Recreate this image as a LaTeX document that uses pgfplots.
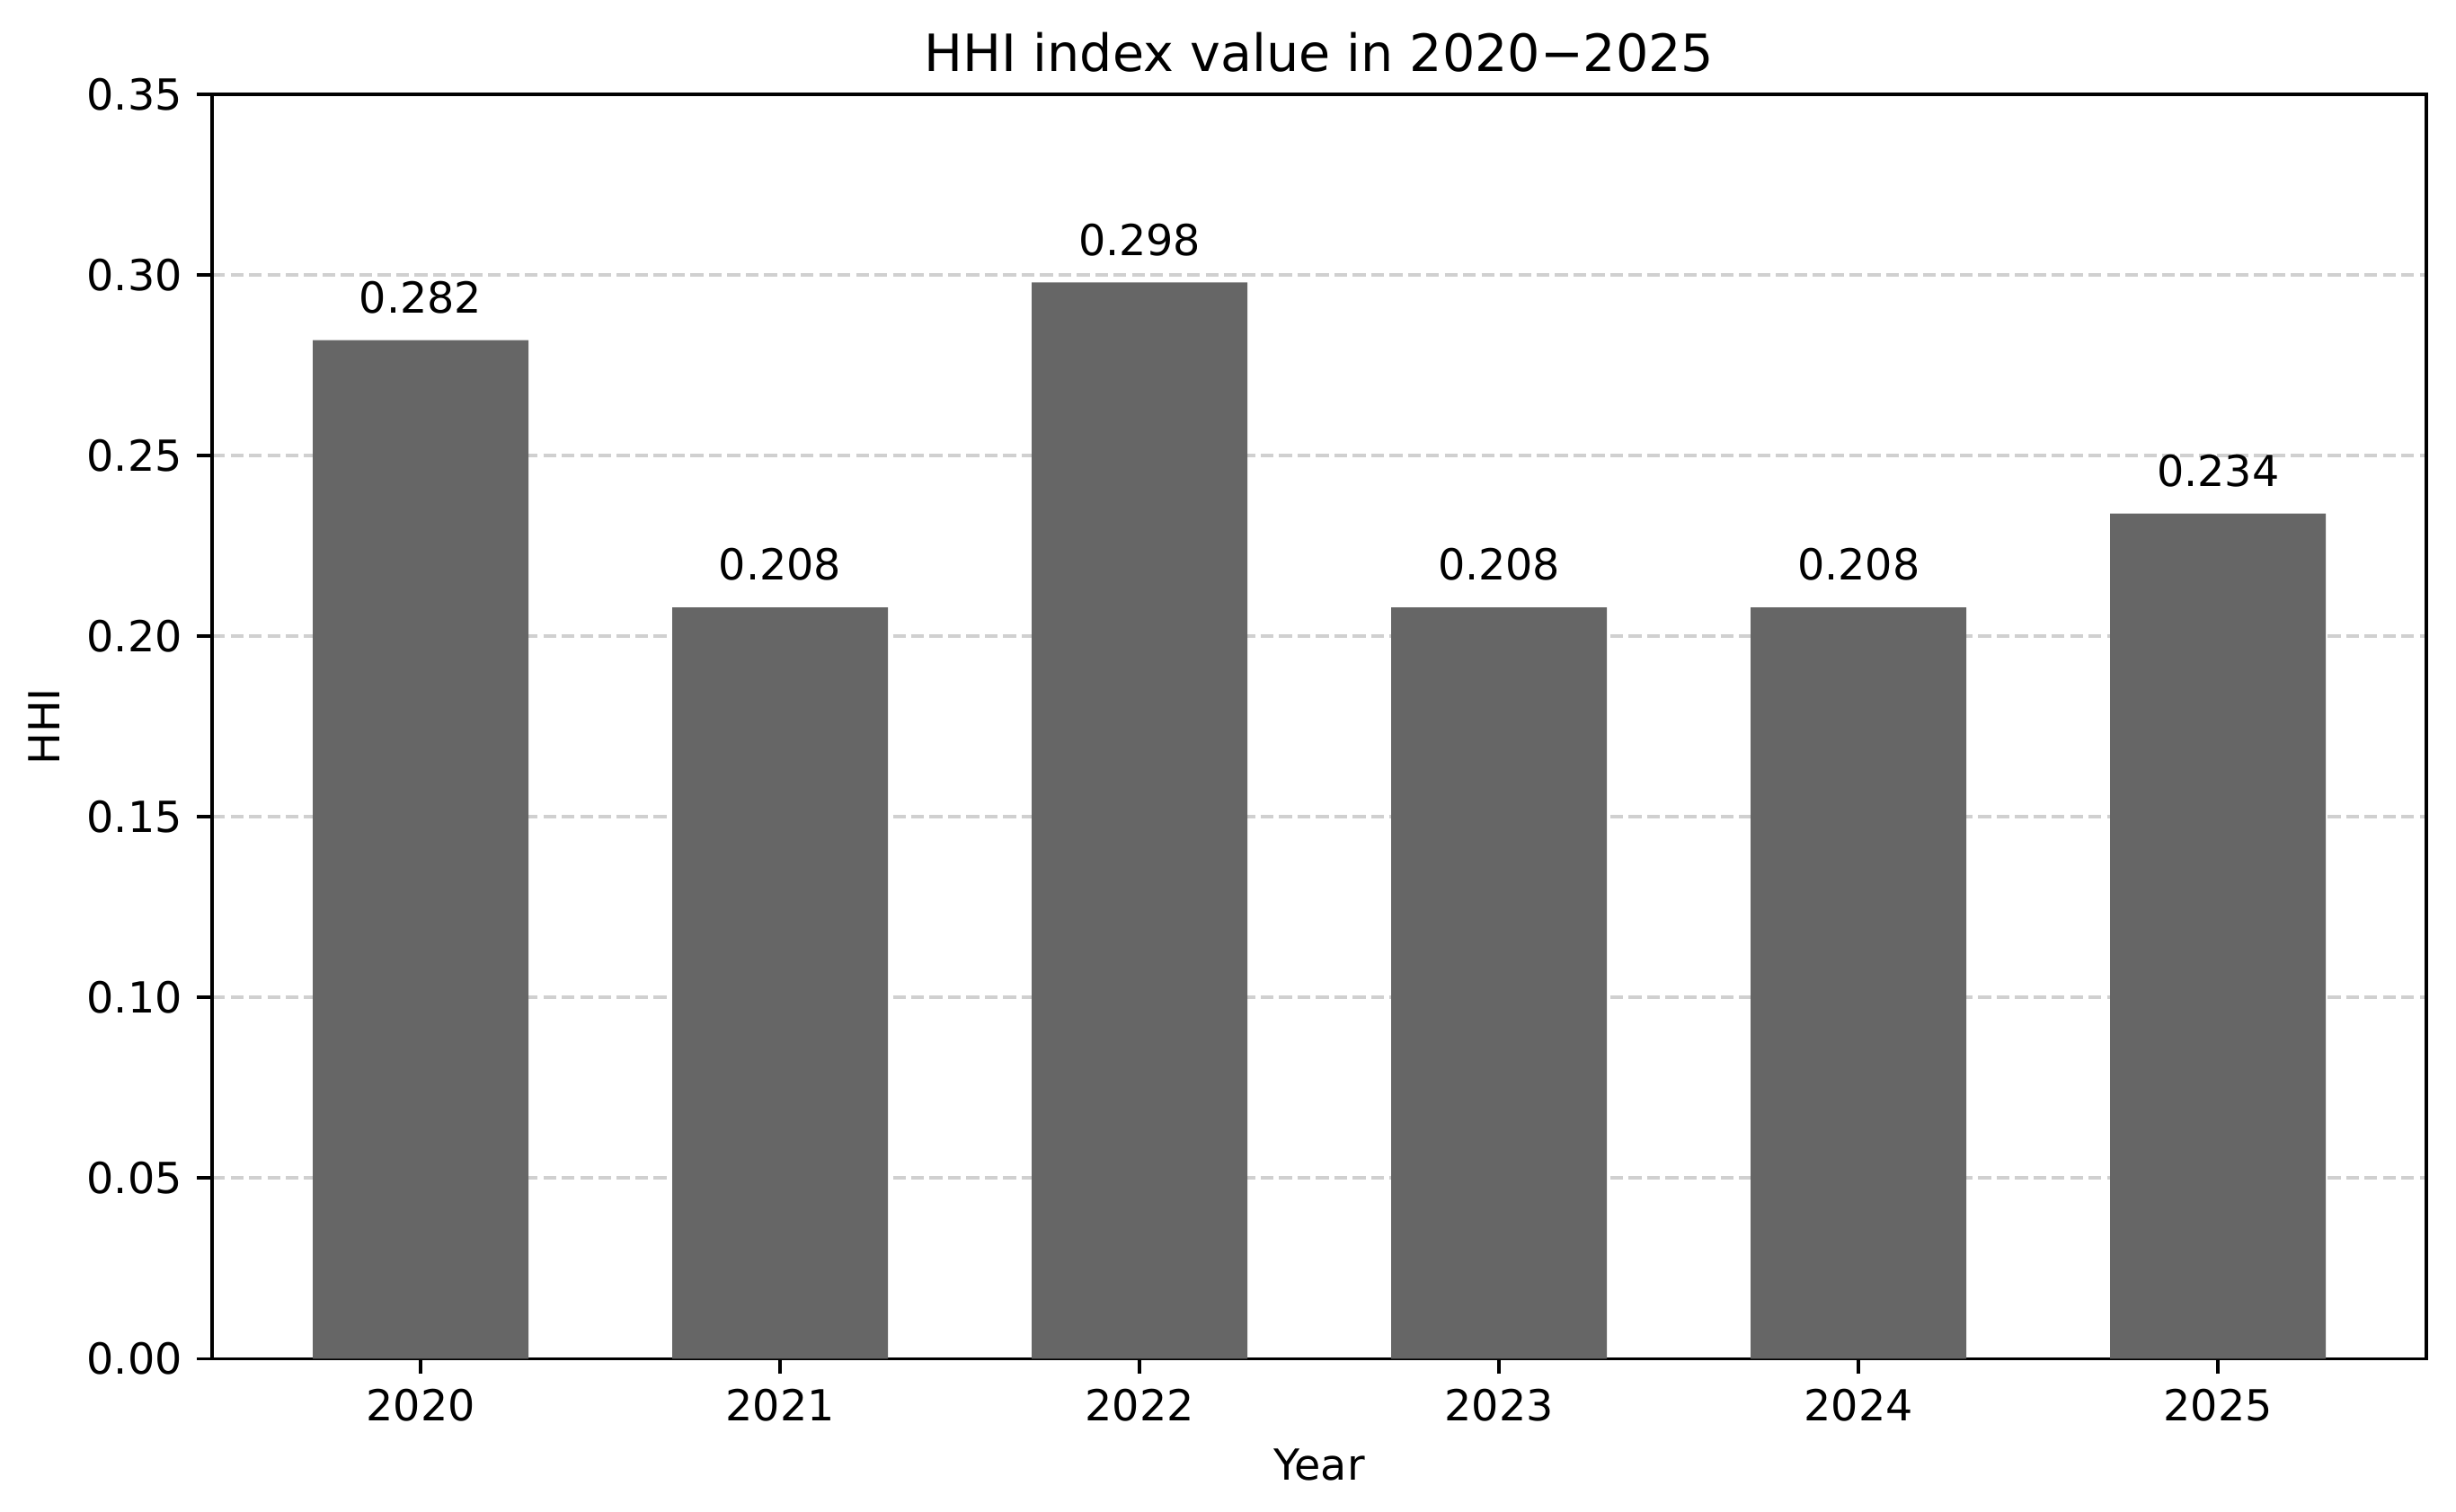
\documentclass[border=0pt]{standalone}
\usepackage{pgfplots}
\pgfplotsset{compat=1.18}
\usepackage{fontspec}
\setmainfont{DejaVu Sans}
\definecolor{barc}{RGB}{102,102,102}
\definecolor{gridc}{RGB}{208,208,208}
\begin{document}
\begin{tikzpicture}
\begin{axis}[
  scale only axis,
  width=517.6pt, height=295.6pt,
  xmin=-0.58, xmax=5.58,
  ymin=0, ymax=0.35,
  xtick={0,1,2,3,4,5},
  xticklabels={2020,2021,2022,2023,2024,2025},
  ytick={0,0.05,0.10,0.15,0.20,0.25,0.30,0.35},
  yticklabel style={/pgf/number format/.cd,fixed,fixed zerofill,precision=2},
  /pgf/number format/assume math mode=true,
  tick align=outside,
  xtick pos=bottom, ytick pos=left,
  major tick length=3.5pt,
  tick style={black, line width=0.8pt},
  axis line style={line width=0.8pt},
  ymajorgrids,
  major grid style={gridc, line width=0.8pt, dash pattern=on 3pt off 1.3pt},
  tick label style={font=\fontsize{10}{12}\selectfont},
  label style={font=\fontsize{10}{12}\selectfont},
  every axis title/.style={font=\fontsize{12}{14}\selectfont, at={(0.5,1)}, anchor=base, yshift=5.5pt},
  title={HHI index value in 2020−2025},
  xlabel={Year},
  ylabel={HHI},
  xlabel style={yshift=0.3pt},
  ylabel style={yshift=-0.5pt},
]
\addplot[ybar, bar width=0.6, fill=barc, draw=none,
  point meta=explicit symbolic,
  nodes near coords,
  every node near coord/.append style={font=\fontsize{10}{12}\selectfont, anchor=south, inner sep=0pt, yshift=6pt, text=black}]
coordinates {
  (0,0.282) [0.282]
  (1,0.208) [0.208]
  (2,0.298) [0.298]
  (3,0.208) [0.208]
  (4,0.208) [0.208]
  (5,0.234) [0.234]
};
\end{axis}
\pgfresetboundingbox
\path ([shift={(-49.6pt,-35.7pt)}]current axis.south west) rectangle ([shift={(6.9pt,22.1pt)}]current axis.north east);
\end{tikzpicture}
\end{document}
